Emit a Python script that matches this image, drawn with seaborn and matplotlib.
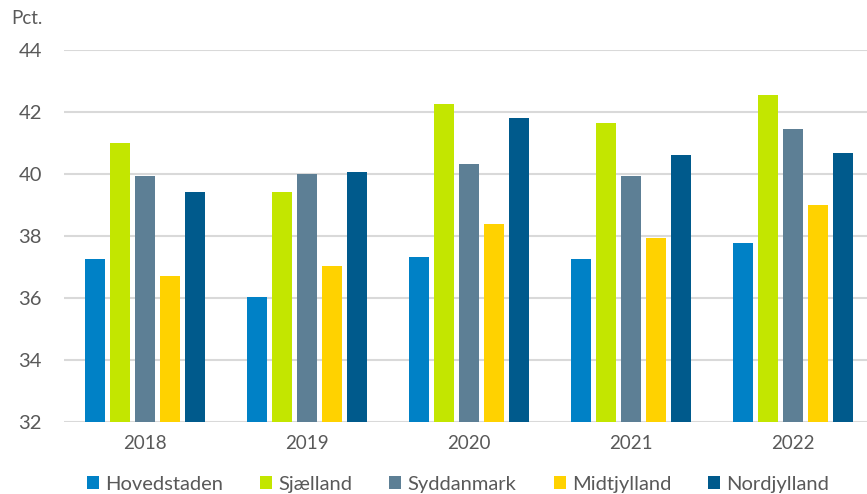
import pandas as pd
import matplotlib.pyplot as plt
import seaborn as sns

# Values (Pct.)
years = ["2018", "2019", "2020", "2021", "2022"]
regions = ["Hovedstaden", "Sjælland", "Syddanmark", "Midtjylland", "Nordjylland"]
hovedstaden = [37.27, 36.04, 37.33, 37.26, 37.77]
sjaelland = [40.99, 39.41, 42.27, 41.65, 42.56]
syddanmark = [39.94, 39.99, 40.32, 39.93, 41.45]
midtjylland = [36.72, 37.04, 38.40, 37.94, 39.00]
nordjylland = [39.42, 40.08, 41.81, 40.60, 40.67]
colors = ["#0081C6", "#C3E600", "#5D7F95", "#FFD200", "#005A8C"]

series = [hovedstaden, sjaelland, syddanmark, midtjylland, nordjylland]
rows = []
for region, vals in zip(regions, series):
    for year, v in zip(years, vals):
        rows.append({"year": year, "region": region, "value": v})
df = pd.DataFrame(rows)

sns.set_style("white")
plt.rcParams["font.family"] = ["Lato", "DejaVu Sans"]
text_color = "#595959"

fig = plt.figure(figsize=(8.67, 4.94), dpi=100)
ax = fig.add_axes([64 / 867, 72 / 494, 810 / 867, 372 / 494])

sns.barplot(data=df, x="year", y="value", hue="region", order=years,
            hue_order=regions, palette=colors, saturation=1, width=0.772,
            gap=0.2, linewidth=0, ax=ax)

ax.set_ylim(32, 44)
ax.set_xlim(-0.5, 4.5)
ax.set_yticks(range(32, 45, 2))
ax.yaxis.grid(True, color="#D9D9D9", linewidth=1.5)
ax.set_axisbelow(True)
sns.despine(ax=ax, left=True, bottom=True)
ax.set_xlabel("")
ax.set_ylabel("")
ax.tick_params(axis="y", length=0, pad=16, labelsize=14.5, labelcolor=text_color)
ax.tick_params(axis="x", length=0, pad=9, labelsize=13.5, labelcolor=text_color)

fig.text(11 / 867, 1 - 18 / 494, "Pct.", fontsize=13.5, color=text_color, va="center")

handles, labels = ax.get_legend_handles_labels()
ax.get_legend().remove()
fig.legend(handles, labels, loc="center", bbox_to_anchor=(458 / 867, 1 - 484 / 494),
           ncol=5, frameon=False, fontsize=14.5, labelcolor=text_color,
           handlelength=0.6, handleheight=0.6, handletextpad=0.3,
           columnspacing=1.85, borderpad=0)

fig.savefig("out.png", dpi=100)
